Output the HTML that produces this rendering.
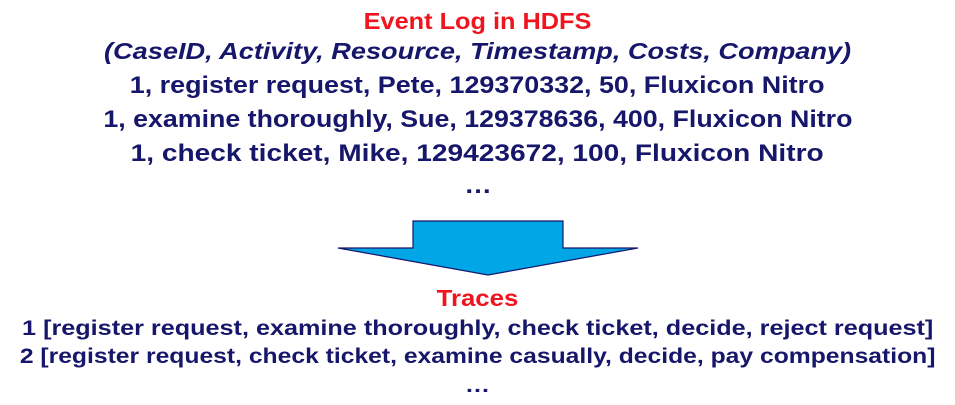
<!DOCTYPE html>
<html><head><style>
body{margin:0;width:955px;height:405px;background:#fff;overflow:hidden;position:relative;font-family:"Liberation Sans",Arial,sans-serif;font-weight:bold;}
.l{position:absolute;left:0;width:955px;text-align:center;white-space:nowrap;color:#16166b;}
.l span{display:inline-block;transform-origin:center;}
.r{color:#f0141e;}
</style></head><body>
<div class="l r" style="top:8px;font-size:23px;"><span style="transform:scaleX(1.10)">Event Log in HDFS</span></div>
<div class="l" style="top:38px;font-size:23px;font-style:italic;"><span style="transform:scaleX(1.18)">(CaseID, Activity, Resource, Timestamp, Costs, Company)</span></div>
<div class="l" style="top:72px;font-size:24px;"><span style="transform:scaleX(1.12)">1, register request, Pete, 129370332, 50, Fluxicon Nitro</span></div>
<div class="l" style="top:106px;font-size:24px;"><span style="transform:scaleX(1.115)">1, examine thoroughly, Sue, 129378636, 400, Fluxicon Nitro</span></div>
<div class="l" style="top:140px;font-size:24px;"><span style="transform:scaleX(1.17)">1, check ticket, Mike, 129423672, 100, Fluxicon Nitro</span></div>
<div class="l" style="top:172px;font-size:24px;"><span style="transform:scaleX(1.15)">…</span></div>
<svg style="position:absolute;left:0;top:0" width="955" height="405">
<polygon points="413,221 563,221 563,248 638,248 488,275 338,248 413,248" fill="#00a6e6" stroke="#16166b" stroke-width="1.2"/>
</svg>
<div class="l r" style="top:285px;font-size:23px;"><span style="transform:scaleX(1.12)">Traces</span></div>
<div class="l" style="top:317px;font-size:21px;"><span style="transform:scaleX(1.2)">1 [register request, examine thoroughly, check ticket, decide, reject request]</span></div>
<div class="l" style="top:345px;font-size:21px;"><span style="transform:scaleX(1.175)">2 [register request, check ticket, examine casually, decide, pay compensation]</span></div>
<div class="l" style="top:374px;font-size:21px;"><span style="transform:scaleX(1.2)">…</span></div>
</body></html>
